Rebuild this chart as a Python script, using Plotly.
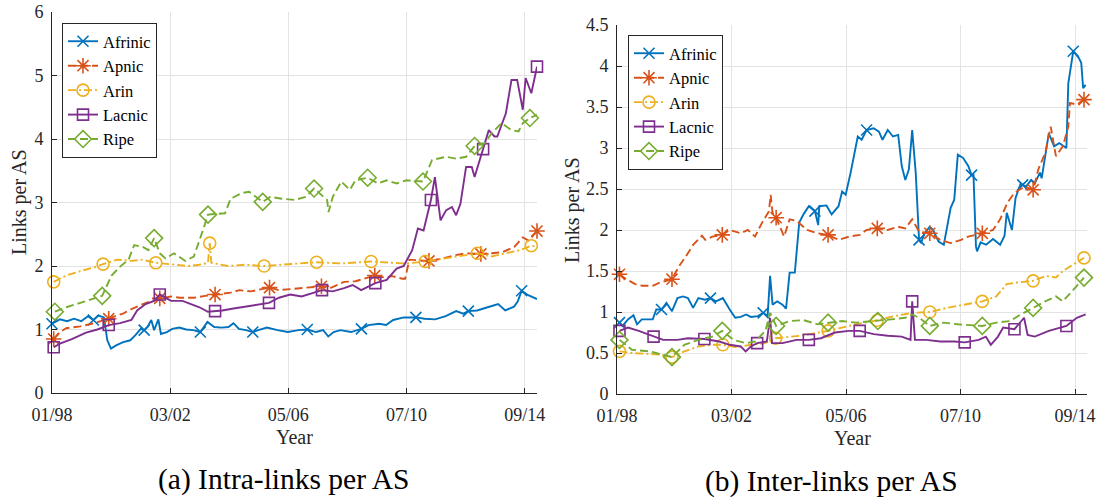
import plotly.graph_objects as go

# ---------------- data (decimal year, links per AS) ----------------
REGIONS = ["Afrinic", "Apnic", "Arin", "Lacnic", "Ripe"]
TICK_YEARS = [1998.0, 2002 + 2 / 12, 2006 + 4 / 12, 2010 + 6 / 12, 2014 + 8 / 12]
TICK_TEXT = ["01/98", "03/02", "05/06", "07/10", "09/14"]

# (a) Intra-links per AS
intra_afrinic = [(1998.0, 1.09), (1998.28, 1.16), (1998.53, 1.13), (1998.78, 1.17), (1999.03, 1.13),
                 (1999.27, 1.21), (1999.46, 1.15), (1999.64, 1.22), (1999.83, 1.19), (1999.95, 0.83),
                 (2000.08, 0.70), (2000.26, 0.75), (2000.51, 0.80), (2000.76, 0.83), (2000.94, 0.91),
                 (2001.13, 1.01), (2001.25, 0.99), (2001.37, 1.04), (2001.5, 1.15), (2001.6, 0.99),
                 (2001.75, 1.16), (2001.84, 0.93), (2002.05, 0.96), (2002.24, 1.01), (2002.49, 1.03),
                 (2002.73, 1.00), (2002.98, 0.99), (2003.23, 0.96), (2003.48, 1.12), (2003.72, 1.04),
                 (2003.97, 1.03), (2004.22, 1.04), (2004.4, 1.10), (2004.59, 1.01), (2004.84, 0.99),
                 (2005.08, 0.96), (2005.27, 0.99), (2005.58, 1.03), (2005.95, 0.99), (2006.32, 0.96),
                 (2006.69, 0.99), (2007.0, 1.00), (2007.31, 0.96), (2007.56, 0.99), (2007.74, 0.89),
                 (2007.93, 0.96), (2008.17, 0.99), (2008.54, 0.96), (2008.91, 1.01), (2009.16, 1.07),
                 (2009.53, 1.09), (2009.78, 1.07), (2010.03, 1.15), (2010.4, 1.19), (2010.83, 1.19),
                 (2011.14, 1.17), (2011.51, 1.16), (2011.88, 1.21), (2012.25, 1.29), (2012.5, 1.25),
                 (2012.68, 1.29), (2012.99, 1.30), (2013.36, 1.35), (2013.73, 1.40), (2013.98, 1.30),
                 (2014.29, 1.36), (2014.42, 1.44), (2014.56, 1.61), (2014.79, 1.54), (2015.1, 1.48)]
intra_apnic = [(1998.06, 0.85), (1998.25, 0.95), (1998.5, 1.02), (1999.0, 1.05), (1999.5, 1.10),
               (2000.0, 1.17), (2000.5, 1.25), (2000.8, 1.32), (2001.2, 1.40), (2001.8, 1.49),
               (2002.2, 1.52), (2002.5, 1.50), (2003.0, 1.50), (2003.4, 1.53), (2003.75, 1.55),
               (2004.3, 1.58), (2004.6, 1.62), (2005.0, 1.60), (2005.67, 1.66), (2006.0, 1.62),
               (2006.5, 1.64), (2007.0, 1.66), (2007.5, 1.68), (2007.8, 1.65), (2008.3, 1.75),
               (2008.7, 1.76), (2009.38, 1.85), (2009.7, 1.82), (2010.0, 1.84), (2010.35, 1.80),
               (2010.45, 1.80), (2010.6, 2.10), (2011.29, 2.08), (2011.8, 2.12), (2012.2, 2.17),
               (2012.6, 2.20), (2013.12, 2.19), (2013.5, 2.20), (2013.9, 2.22), (2014.3, 2.30),
               (2014.6, 2.45), (2014.8, 2.40), (2015.1, 2.55)]
intra_arin = [(1998.06, 1.75), (1998.5, 1.85), (1999.0, 1.92), (1999.5, 1.98), (1999.8, 2.03),
              (2000.3, 2.10), (2000.8, 2.08), (2001.2, 2.10), (2001.66, 2.05), (2002.2, 2.03),
              (2002.8, 2.00), (2003.2, 2.02), (2003.5, 2.05), (2003.56, 2.36), (2003.62, 2.05),
              (2004.2, 2.00), (2004.8, 2.02), (2005.48, 2.00), (2006.2, 2.02), (2007.0, 2.05),
              (2007.33, 2.06), (2008.2, 2.04), (2009.25, 2.07), (2010.0, 2.05), (2010.5, 2.04),
              (2011.16, 2.07), (2011.6, 2.10), (2012.2, 2.15), (2013.0, 2.20), (2013.5, 2.15),
              (2014.0, 2.20), (2014.5, 2.25), (2014.9, 2.32), (2015.1, 2.30)]
intra_lacnic = [(1998.06, 0.72), (1998.3, 0.78), (1998.7, 0.85), (1999.2, 0.95), (1999.6, 1.00),
                (2000.0, 1.07), (2000.4, 1.10), (2000.8, 1.15), (2001.0, 1.30), (2001.3, 1.40),
                (2001.6, 1.45), (2001.8, 1.55), (2002.2, 1.45), (2002.6, 1.45), (2002.9, 1.40),
                (2003.2, 1.35), (2003.5, 1.28), (2003.75, 1.29), (2004.0, 1.30), (2004.4, 1.33),
                (2004.8, 1.36), (2005.2, 1.38), (2005.65, 1.42), (2006.0, 1.50), (2006.4, 1.55),
                (2006.8, 1.52), (2007.2, 1.58), (2007.52, 1.62), (2007.9, 1.60), (2008.3, 1.65),
                (2008.6, 1.70), (2008.9, 1.62), (2009.4, 1.73), (2009.8, 1.78), (2010.15, 1.96),
                (2010.4, 2.00), (2010.7, 2.25), (2010.9, 2.59), (2011.1, 2.56), (2011.36, 3.04),
                (2011.5, 3.40), (2011.7, 2.72), (2011.9, 2.88), (2012.1, 2.93), (2012.25, 2.80),
                (2012.4, 2.98), (2012.6, 3.56), (2012.8, 3.56), (2012.9, 3.40), (2013.2, 3.84),
                (2013.4, 4.14), (2013.6, 4.04), (2013.7, 4.04), (2014.0, 4.40), (2014.2, 4.93),
                (2014.4, 4.93), (2014.6, 4.46), (2014.7, 4.96), (2014.9, 4.72), (2015.1, 5.14)]
intra_ripe = [(1998.1, 1.28), (1998.5, 1.35), (1999.0, 1.42), (1999.77, 1.53), (2000.1, 1.85),
              (2000.4, 1.99), (2000.7, 2.10), (2000.9, 2.33), (2001.2, 2.30), (2001.4, 2.25),
              (2001.6, 2.44), (2001.8, 2.20), (2002.0, 2.12), (2002.3, 2.20), (2002.7, 2.08),
              (2003.0, 2.15), (2003.35, 2.60), (2003.5, 2.81), (2004.1, 2.83), (2004.3, 3.06),
              (2004.7, 3.15), (2004.95, 3.17), (2005.43, 3.01), (2005.7, 3.09), (2006.1, 3.06),
              (2006.55, 3.04), (2006.95, 3.09), (2007.24, 3.22), (2007.7, 3.04), (2007.75, 2.85),
              (2007.9, 3.09), (2008.2, 3.33), (2008.5, 3.20), (2008.7, 3.35), (2009.13, 3.39),
              (2009.5, 3.30), (2009.8, 3.35), (2010.15, 3.30), (2010.5, 3.35), (2011.08, 3.33),
              (2011.4, 3.67), (2011.9, 3.72), (2012.25, 3.69), (2012.6, 3.72), (2012.9, 3.89),
              (2013.25, 3.93), (2013.5, 4.09), (2013.85, 4.25), (2014.2, 4.14), (2014.45, 4.12),
              (2014.6, 4.25), (2014.85, 4.33), (2015.1, 4.38)]

# (b) Inter-links per AS
inter_afrinic = [(1998.09, 0.87), (1998.2, 0.83), (1998.4, 0.91), (1998.6, 0.96), (1998.73, 0.85),
                 (1998.9, 0.91), (1999.3, 0.91), (1999.43, 1.03), (1999.62, 1.03), (1999.8, 1.11),
                 (2000.0, 1.01), (2000.2, 1.17), (2000.4, 1.19), (2000.58, 1.17), (2000.77, 1.05),
                 (2000.96, 1.17), (2001.2, 1.15), (2001.4, 1.17), (2001.6, 1.13), (2001.85, 1.17),
                 (2002.1, 1.03), (2002.3, 0.93), (2002.5, 0.94), (2002.7, 0.97), (2002.87, 0.94),
                 (2003.13, 0.95), (2003.32, 0.99), (2003.48, 0.95), (2003.57, 1.44), (2003.66, 1.09),
                 (2003.83, 1.13), (2004.02, 1.09), (2004.15, 1.04), (2004.28, 1.48), (2004.47, 1.48),
                 (2004.63, 2.09), (2004.8, 2.20), (2004.98, 2.29), (2005.2, 2.23), (2005.32, 2.06),
                 (2005.36, 2.29), (2005.62, 2.30), (2005.81, 2.19), (2006.06, 2.29), (2006.19, 2.47),
                 (2006.32, 2.43), (2006.5, 2.70), (2006.64, 2.96), (2006.76, 3.14), (2006.9, 3.10),
                 (2007.08, 3.22), (2007.34, 3.24), (2007.53, 3.20), (2007.66, 3.10), (2007.85, 3.22),
                 (2008.04, 3.14), (2008.23, 3.16), (2008.36, 2.78), (2008.49, 2.61), (2008.62, 2.74),
                 (2008.74, 3.22), (2008.87, 2.69), (2008.99, 1.88), (2009.06, 1.84), (2009.19, 1.96),
                 (2009.38, 2.04), (2009.5, 2.00), (2009.7, 1.86), (2009.89, 1.82), (2010.14, 2.27),
                 (2010.27, 2.37), (2010.4, 2.92), (2010.59, 2.88), (2010.78, 2.78), (2010.9, 2.67),
                 (2010.97, 2.67), (2011.06, 1.80), (2011.1, 1.74), (2011.23, 1.85), (2011.43, 1.82),
                 (2011.68, 1.89), (2011.94, 1.82), (2012.1, 1.93), (2012.18, 2.21), (2012.37, 2.00),
                 (2012.5, 2.39), (2012.69, 2.57), (2012.76, 2.55), (2012.88, 2.53), (2013.07, 2.61),
                 (2013.2, 2.57), (2013.39, 2.70), (2013.45, 2.63), (2013.58, 2.90), (2013.71, 3.18),
                 (2013.9, 3.02), (2014.09, 3.06), (2014.35, 3.00), (2014.42, 3.79), (2014.6, 4.18),
                 (2014.8, 4.10), (2014.89, 4.04), (2014.96, 3.73), (2015.05, 3.77)]
inter_apnic = [(1998.09, 1.46), (1998.34, 1.40), (1998.66, 1.34), (1998.92, 1.32), (1999.3, 1.32),
               (1999.56, 1.36), (2000.0, 1.40), (2000.26, 1.56), (2000.51, 1.68), (2000.77, 1.82),
               (2001.09, 1.93), (2001.21, 1.88), (2001.47, 1.92), (2001.83, 1.94), (2002.1, 2.00),
               (2002.5, 1.96), (2002.76, 2.00), (2003.02, 1.92), (2003.28, 2.09), (2003.53, 2.23),
               (2003.59, 2.43), (2003.66, 2.21), (2003.79, 2.15), (2004.08, 1.92), (2004.28, 2.13),
               (2004.54, 2.11), (2004.92, 2.00), (2005.3, 1.96), (2005.68, 1.94), (2006.06, 1.88),
               (2006.45, 1.92), (2006.83, 1.94), (2007.08, 2.00), (2007.47, 2.02), (2007.85, 2.00),
               (2008.23, 2.04), (2008.49, 2.02), (2008.74, 2.13), (2008.99, 1.98), (2009.38, 1.96),
               (2009.76, 1.88), (2010.14, 1.84), (2010.52, 1.88), (2010.78, 1.92), (2011.29, 1.96),
               (2011.68, 2.00), (2011.94, 2.13), (2012.2, 2.33), (2012.45, 2.45), (2012.83, 2.53),
               (2013.14, 2.49), (2013.33, 2.74), (2013.58, 2.94), (2013.78, 3.26), (2013.97, 2.90),
               (2014.22, 3.02), (2014.42, 3.26), (2014.48, 3.55), (2014.73, 3.53), (2014.99, 3.59)]
inter_arin = [(1998.09, 0.52), (1998.54, 0.50), (1999.05, 0.49), (1999.56, 0.48), (2000.0, 0.45),
              (2000.45, 0.52), (2000.96, 0.58), (2001.47, 0.60), (2001.85, 0.60), (2002.36, 0.57),
              (2002.87, 0.60), (2003.38, 0.62), (2003.77, 0.68), (2004.28, 0.70), (2004.66, 0.71),
              (2005.17, 0.74), (2005.68, 0.77), (2006.19, 0.81), (2006.7, 0.85), (2007.47, 0.90),
              (2008.1, 0.95), (2008.74, 0.99), (2009.38, 1.00), (2010.0, 1.05), (2010.65, 1.09),
              (2011.29, 1.13), (2011.8, 1.19), (2012.18, 1.34), (2012.57, 1.36), (2013.14, 1.38),
              (2013.6, 1.44), (2013.97, 1.42), (2014.22, 1.50), (2014.6, 1.58), (2014.99, 1.66)]
inter_lacnic = [(1998.09, 0.77), (1998.4, 0.81), (1998.79, 0.77), (1999.33, 0.70), (1999.68, 0.66),
                (2000.2, 0.66), (2000.58, 0.68), (2001.18, 0.67), (2001.72, 0.64), (2002.1, 0.60),
                (2002.5, 0.58), (2002.68, 0.52), (2002.87, 0.58), (2003.1, 0.62), (2003.45, 0.64),
                (2003.57, 0.93), (2003.64, 0.62), (2004.02, 0.62), (2004.53, 0.66), (2004.98, 0.66),
                (2005.42, 0.68), (2005.93, 0.75), (2006.44, 0.77), (2006.83, 0.77), (2007.34, 0.73),
                (2007.85, 0.71), (2008.36, 0.70), (2008.68, 0.66), (2008.74, 1.13), (2008.84, 0.66),
                (2009.25, 0.66), (2009.76, 0.64), (2010.27, 0.64), (2010.65, 0.63), (2011.16, 0.66),
                (2011.42, 0.70), (2011.6, 0.60), (2011.86, 0.70), (2012.05, 0.81), (2012.46, 0.79),
                (2012.81, 0.93), (2012.94, 0.72), (2013.2, 0.70), (2013.71, 0.77), (2014.35, 0.83),
                (2014.73, 0.93), (2015.05, 0.97)]
inter_ripe = [(1998.09, 0.66), (1998.54, 0.54), (1999.17, 0.52), (1999.68, 0.48), (2000.0, 0.45),
              (2000.45, 0.60), (2000.96, 0.66), (2001.47, 0.70), (2001.83, 0.77), (2002.24, 0.66),
              (2002.7, 0.62), (2003.02, 0.64), (2003.4, 0.77), (2003.57, 0.99), (2003.79, 0.83),
              (2004.28, 0.89), (2004.79, 0.90), (2005.3, 0.85), (2005.68, 0.87), (2006.19, 0.89),
              (2006.7, 0.87), (2007.49, 0.89), (2007.97, 0.91), (2008.49, 0.93), (2008.74, 0.97),
              (2008.99, 0.93), (2009.38, 0.83), (2009.89, 0.87), (2010.4, 0.85), (2011.29, 0.83),
              (2011.8, 0.87), (2012.3, 0.89), (2012.69, 0.97), (2013.14, 1.05), (2013.58, 1.13),
              (2013.97, 1.19), (2014.22, 1.13), (2014.6, 1.27), (2014.99, 1.42)]

# years at which a marker is drawn on each curve
intra_marks = {
    "Afrinic": [1998.0, 1999.46, 2001.25, 2003.23, 2005.08, 2007.0, 2008.91, 2010.83, 2012.68, 2014.56],
    "Apnic": [1998.06, 2000.0, 2001.8, 2003.75, 2005.67, 2007.5, 2009.38, 2011.29, 2013.12, 2015.1],
    "Arin": [1998.06, 1999.8, 2001.66, 2003.56, 2005.48, 2007.33, 2009.25, 2011.16, 2013.0, 2014.9],
    "Lacnic": [1998.06, 2000.0, 2001.8, 2003.75, 2005.65, 2007.52, 2009.4, 2011.36, 2013.2, 2015.1],
    "Ripe": [1998.1, 1999.77, 2001.6, 2003.5, 2005.43, 2007.24, 2009.13, 2011.08, 2012.9, 2014.85],
}
inter_marks = {
    "Afrinic": [1998.09, 1999.62, 2001.4, 2003.32, 2005.2, 2007.08, 2008.99, 2010.9, 2012.76, 2014.6],
    "Apnic": [1998.09, 2000.0, 2001.83, 2003.79, 2005.68, 2007.47, 2009.38, 2011.29, 2013.14, 2014.99],
    "Arin": [1998.09, 2000.0, 2001.85, 2003.77, 2005.68, 2007.47, 2009.38, 2011.29, 2013.14, 2014.99],
    "Lacnic": [1998.09, 1999.33, 2001.18, 2003.1, 2004.98, 2006.83, 2008.74, 2010.65, 2012.46, 2014.35],
    "Ripe": [1998.09, 2000.0, 2001.83, 2003.79, 2005.68, 2007.49, 2009.38, 2011.29, 2013.14, 2014.99],
}

intra = [intra_afrinic, intra_apnic, intra_arin, intra_lacnic, intra_ripe]
inter = [inter_afrinic, inter_apnic, inter_arin, inter_lacnic, inter_ripe]

# ---------------- style ----------------
FONT = "Liberation Serif, Times New Roman, Times, serif"
INK = "#262626"
GRID = "#e3e3e3"
COLORS = ["#0072BD", "#D95319", "#EDB120", "#7E2F8E", "#77AC30"]
DASHES = ["solid", "8px,4px", "8px,3px,2px,3px", "solid", "8px,4px"]
SYMBOLS = ["x-thin-open", "asterisk-open", "circle-open", "square-open", "diamond-open"]
SIZES = [11, 13, 12, 11, 13]
W, H = 1102, 497

fig = go.Figure()


def add_panel(series, marks, xa, ya, legend):
    for name, pts, col, dash, sym, sz in zip(REGIONS, series, COLORS, DASHES, SYMBOLS, SIZES):
        xs = [p[0] for p in pts]
        ys = [p[1] for p in pts]
        fig.add_trace(go.Scatter(x=xs, y=ys, mode="lines", xaxis=xa, yaxis=ya,
                                 line=dict(color=col, width=1.9, dash=dash),
                                 showlegend=False, hoverinfo="skip"))
        idx = [min(range(len(xs)), key=lambda i: abs(xs[i] - m)) for m in marks[name]]
        fig.add_trace(go.Scatter(x=[xs[i] for i in idx], y=[ys[i] for i in idx], mode="markers",
                                 xaxis=xa, yaxis=ya, cliponaxis=False,
                                 marker=dict(symbol=sym, size=sz, color=col, line=dict(width=1.6, color=col)),
                                 showlegend=False, hoverinfo="skip"))
        fig.add_trace(go.Scatter(x=[None], y=[None], mode="lines+markers", name=name,
                                 xaxis=xa, yaxis=ya, legend=legend,
                                 line=dict(color=col, width=1.9, dash=dash),
                                 marker=dict(symbol=sym, size=sz, color=col, line=dict(width=1.6, color=col))))


add_panel(intra, intra_marks, "x", "y", "legend")
add_panel(inter, inter_marks, "x2", "y2", "legend2")

axis_common = dict(showgrid=True, gridcolor=GRID, gridwidth=1, showline=True, linecolor=INK,
                   linewidth=1, ticks="inside", ticklen=5, tickcolor=INK, zeroline=False,
                   tickfont=dict(family=FONT, size=18, color=INK), mirror=False, automargin=False)

xcommon = dict(axis_common, tickmode="array", tickvals=TICK_YEARS, ticktext=TICK_TEXT,
               range=[1998.0, 2015.1], ticklabelstandoff=5)

legend_common = dict(bgcolor="white", bordercolor=INK, borderwidth=1,
                     font=dict(family=FONT, size=16.5, color="black"),
                     xanchor="left", yanchor="top", tracegroupgap=0)

fig.update_layout(
    template="none",
    width=W, height=H, margin=dict(l=0, r=0, t=0, b=0, pad=0, autoexpand=False),
    paper_bgcolor="white", plot_bgcolor="white",
    font=dict(family=FONT, color=INK),
    xaxis=dict(xcommon, domain=[52 / W, 537 / W], anchor="y"),
    yaxis=dict(axis_common, domain=[1 - 393 / H, 1 - 12 / H], range=[0, 6], dtick=1, anchor="x",
               ticklabelstandoff=4),
    xaxis2=dict(xcommon, domain=[617 / W, 1087 / W], anchor="y2"),
    yaxis2=dict(axis_common, domain=[1 - 394 / H, 1 - 25 / H], range=[0, 4.5], dtick=0.5, anchor="x2",
                ticklabelstandoff=4),
    legend=dict(legend_common, x=62 / W, y=1 - 23 / H),
    legend2=dict(legend_common, x=628 / W, y=1 - 35 / H),
    showlegend=True,
)

ann = [
    dict(text="Links per AS", x=19 / W, y=1 - 202 / H, textangle=-90, size=20),
    dict(text="Links per AS", x=572 / W, y=1 - 210 / H, textangle=-90, size=20),
    dict(text="Year", x=294.5 / W, y=1 - 437 / H, textangle=0, size=20),
    dict(text="Year", x=852 / W, y=1 - 438 / H, textangle=0, size=20),
    dict(text="(a) Intra-links per AS", x=284 / W, y=1 - 479 / H, textangle=0, size=29.5),
    dict(text="(b) Inter-links per AS", x=831 / W, y=1 - 481 / H, textangle=0, size=29.5),
]
for a in ann:
    fig.add_annotation(text=a["text"], x=a["x"], y=a["y"], xref="paper", yref="paper",
                       xanchor="center", yanchor="middle", showarrow=False, textangle=a["textangle"],
                       font=dict(family=FONT, size=a["size"], color=INK if a["size"] < 25 else "black"))

fig.write_html("out.html")
